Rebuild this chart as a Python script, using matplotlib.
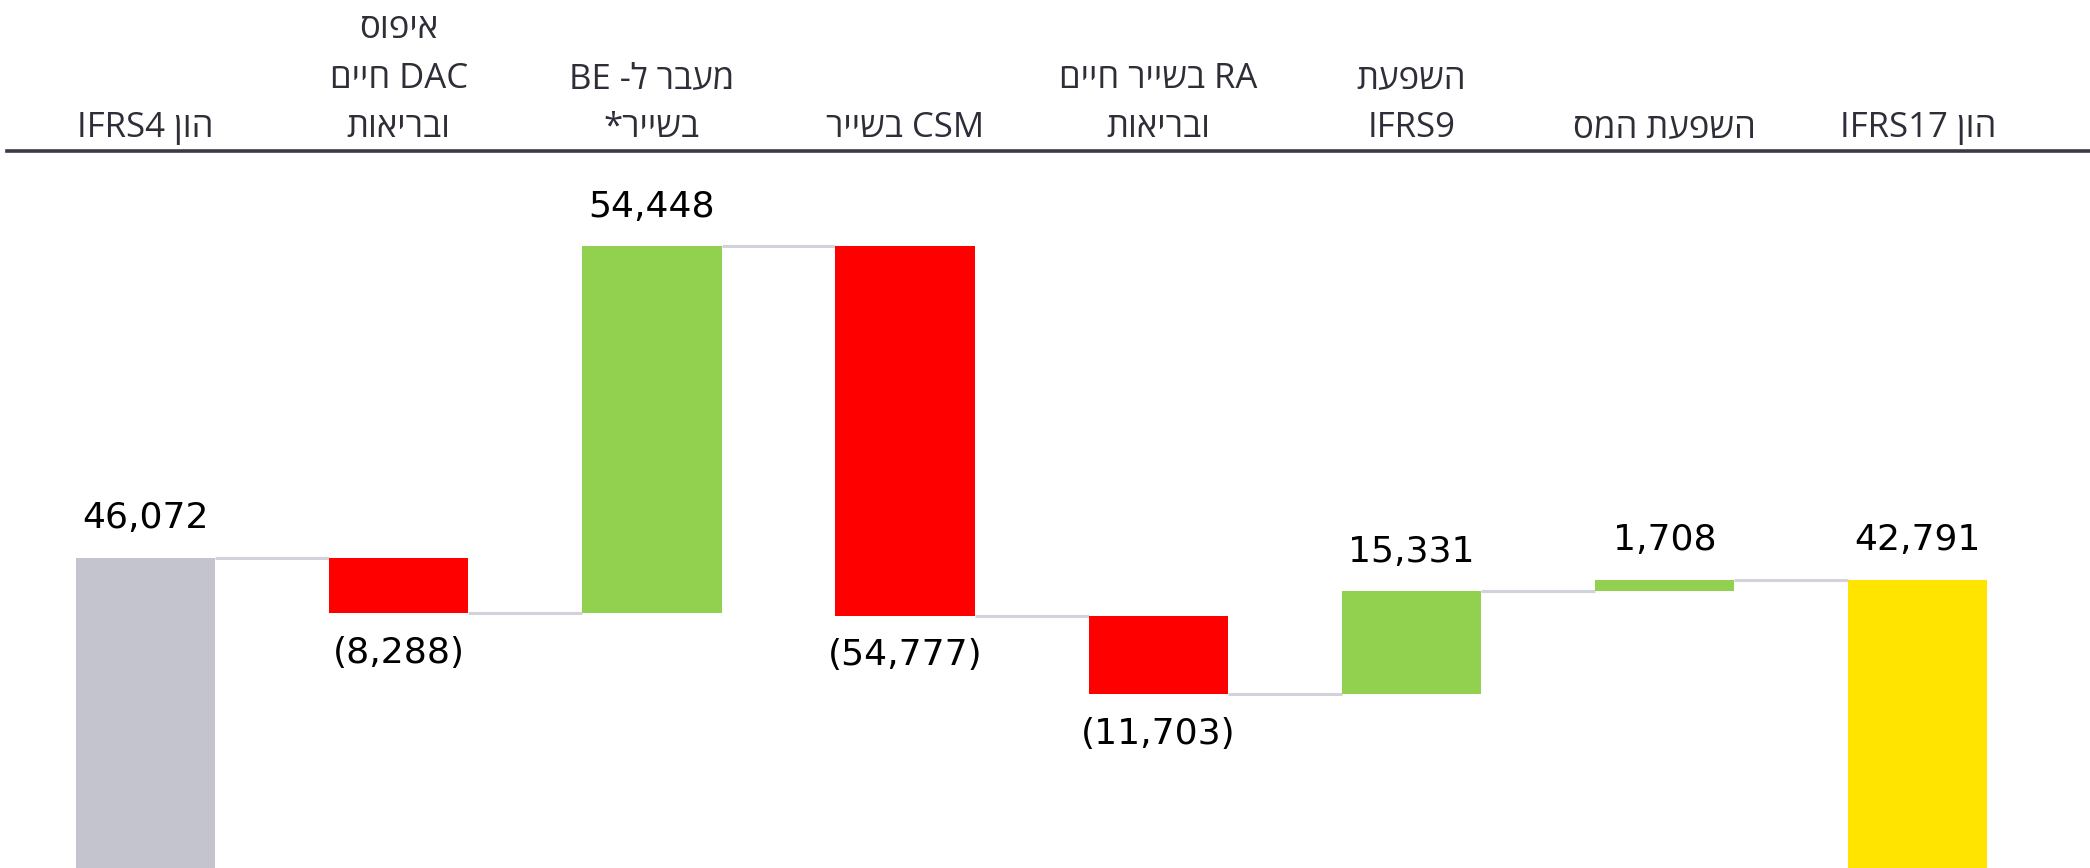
import re
import numpy as np
import matplotlib
matplotlib.use("Agg")
import matplotlib.pyplot as plt

# categories (logical Hebrew order), one string per bar, lines split by \n
categories = [
    "הון IFRS4",
    "איפוס\nDAC חיים\nובריאות",
    "מעבר ל- BE\nבשייר*",
    "CSM בשייר",
    "RA בשייר חיים\nובריאות",
    "השפעת\nIFRS9",
    "השפעת המס",
    "הון IFRS17",
]
values = [46072, -8288, 54448, -54777, -11703, 15331, 1708, 42791]
kinds = ["total", "step", "step", "step", "step", "step", "step", "total"]
value_labels = ["46,072", "(8,288)", "54,448", "(54,777)", "(11,703)",
                "15,331", "1,708", "42,791"]

HEB = re.compile("[\u0590-\u05FF]")


def visual(line):
    # matplotlib has no bidi support: put RTL words in display order by hand
    words = line.split(" ")[::-1]
    words = [w[::-1] if HEB.search(w) else w for w in words]
    return " ".join(words)


def visual_label(text):
    return "\n".join(visual(l) for l in text.split("\n"))


# waterfall bottoms / tops
bottoms, heights, colors = [], [], []
level = 0
for v, k in zip(values, kinds):
    if k == "total":
        bottoms.append(0)
        heights.append(v)
        colors.append("#C4C4CE" if len(bottoms) == 1 else "#FFE400")
        level = v
    else:
        if v >= 0:
            bottoms.append(level)
            colors.append("#92D050")
        else:
            bottoms.append(level + v)
            colors.append("#FF0000")
        heights.append(abs(v))
        level += v

fig = plt.figure(figsize=(20.9, 8.68), dpi=100)
ax = fig.add_axes([7 / 2090, 0, 1 - 7 / 2090, 1 - 151 / 868])

x = np.arange(len(values))
w = 0.55
ax.bar(x, heights, bottom=bottoms, width=w, color=colors, zorder=3)

# connector lines
levels = np.cumsum([v if k == "step" else 0 for v, k in zip(values, kinds)]) + values[0]
for i in range(len(values) - 1):
    lv = values[0] if i == 0 else levels[i]
    ax.hlines(lv, x[i] + w / 2, x[i + 1] - w / 2, color="#D2D2DC", lw=2.2, zorder=2)

# value labels
for i, (v, b, h) in enumerate(zip(values, bottoms, heights)):
    if v >= 0:
        ax.annotate(value_labels[i], (x[i], b + h), xytext=(0, 16),
                    textcoords="offset points", ha="center", va="bottom",
                    fontsize=26, family="DejaVu Sans", color="black")
    else:
        ax.annotate(value_labels[i], (x[i], b), xytext=(0, -16),
                    textcoords="offset points", ha="center", va="top",
                    fontsize=26, family="DejaVu Sans", color="black")

ax.set_xlim(-0.547, 7.68)
ax.set_ylim(0, 106400)

ax.xaxis.tick_top()
ax.set_xticks(x)
ax.set_xticklabels([visual_label(c) for c in categories],
                   fontsize=25, color="#2E2E38", linespacing=1.6,
                   family=["Open Sans", "Liberation Sans", "DejaVu Sans"])
ax.tick_params(axis="x", length=0, pad=4)
ax.set_yticks([])

for s in ["left", "right", "bottom"]:
    ax.spines[s].set_visible(False)
ax.spines["top"].set_color("#3A3A44")
ax.spines["top"].set_linewidth(2.6)

fig.savefig("out.png", dpi=100, facecolor="white")
